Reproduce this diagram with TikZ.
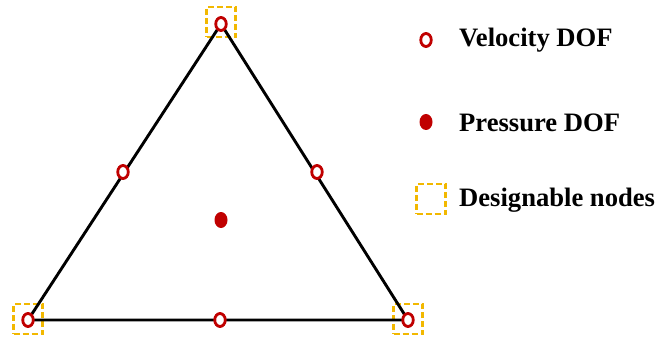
\documentclass[tikz,border=0pt]{standalone}
\usepackage{fontspec}
\setmainfont{Liberation Serif}
\usetikzlibrary{shapes.geometric}
\definecolor{dofred}{HTML}{C00000}
\definecolor{dgold}{HTML}{F2B800}
\begin{document}
\begin{tikzpicture}[x=1pt,y=-1pt,
  vel/.style={ellipse,draw=dofred,line width=2.8pt,fill=white,minimum width=10.5pt,minimum height=13pt,inner sep=0pt},
  pres/.style={ellipse,fill=dofred,minimum width=13pt,minimum height=16pt,inner sep=0pt},
  dsq/.style={draw=dgold,line width=2.6pt,dash pattern=on 6pt off 3pt,minimum width=29pt,minimum height=30pt,inner sep=0pt},
  lbl/.style={anchor=base west,font=\bfseries\fontsize{26.6}{30}\selectfont,inner sep=0pt}]
\useasboundingbox (0,0) rectangle (658,339);
\coordinate (T) at (221,24);
\coordinate (L) at (28,320);
\coordinate (R) at (408,320);
\node[dsq] (sT) at (221,22) {};
\node[dsq] (sL) at (28,319) {};
\node[dsq] (sR) at (408,319) {};
\draw[line width=2.9pt,line join=round] (T) -- (L) -- (R) -- cycle;
\node[vel] (vT) at (T) {};
\node[vel] (vL) at (L) {};
\node[vel] (vR) at (R) {};
\node[vel] (vML) at (123,172) {};
\node[vel] (vMR) at (317,172) {};
\node[vel] (vMB) at (220,320) {};
\node[pres] (p) at (221,220) {};
% legend
\node[vel] (lv) at (426,40) {};
\node[lbl] (tv) at (459,47) {Velocity DOF};
\node[pres] (lp) at (426,122) {};
\node[lbl] (tp) at (459,132) {Pressure DOF};
\node[dsq] (ld) at (431,199) {};
\node[lbl] (td) at (459,207) {Designable nodes};
\end{tikzpicture}
\end{document}
